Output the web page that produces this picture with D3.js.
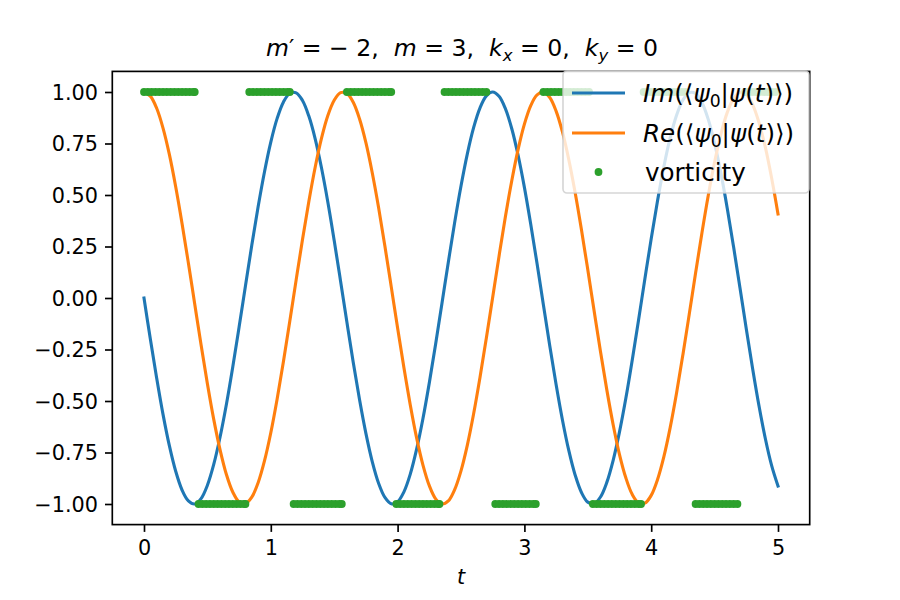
<!DOCTYPE html>
<html><head><meta charset="utf-8">
<script src="https://cdn.jsdelivr.net/npm/d3@7"></script>
<style>
html,body{margin:0;padding:0;background:#fff;}
svg{display:block;font-family:"DejaVu Sans",sans-serif;}
</style></head>
<body><svg id="chart" width="900" height="600"></svg>
<script>
// ---- data ----
const tValues = [0,0.05,0.1,0.15,0.2,0.25,0.3,0.35,0.4,0.45,0.5,0.55,0.6,0.65,0.7,0.75,0.8,0.85,0.9,0.95,
1,1.05,1.1,1.15,1.2,1.25,1.3,1.35,1.4,1.45,1.5,1.55,1.6,1.65,1.7,1.75,1.8,1.85,1.9,1.95,
2,2.05,2.1,2.15,2.2,2.25,2.3,2.35,2.4,2.45,2.5,2.55,2.6,2.65,2.7,2.75,2.8,2.85,2.9,2.95,
3,3.05,3.1,3.15,3.2,3.25,3.3,3.35,3.4,3.45,3.5,3.55,3.6,3.65,3.7,3.75,3.8,3.85,3.9,3.95,
4,4.05,4.1,4.15,4.2,4.25,4.3,4.35,4.4,4.45,4.5,4.55,4.6,4.65,4.7,4.75,4.8,4.85,4.9,4.95,5];
const imValues = [0,-0.199,-0.389,-0.565,-0.717,-0.841,-0.932,-0.985,-1.000,-0.974,
-0.909,-0.808,-0.675,-0.516,-0.335,-0.141,0.058,0.256,0.443,0.612,
0.757,0.872,0.952,0.994,0.996,0.959,0.883,0.773,0.631,0.465,
0.279,0.083,-0.117,-0.312,-0.494,-0.657,-0.794,-0.899,-0.968,-0.999,
-0.989,-0.941,-0.855,-0.734,-0.585,-0.412,-0.223,-0.025,0.174,0.367,
0.544,0.700,0.828,0.923,0.981,1.000,0.979,0.919,0.823,0.694,
0.537,0.358,0.166,-0.034,-0.232,-0.420,-0.592,-0.740,-0.859,-0.944,
-0.991,-0.998,-0.966,-0.895,-0.788,-0.650,-0.487,-0.303,-0.108,0.092,
0.288,0.472,0.638,0.778,0.887,0.961,0.997,0.993,0.949,0.867,
0.751,0.605,0.435,0.247,0.050,-0.150,-0.343,-0.523,-0.682,-0.814,-0.913];
const reValues = [1,0.980,0.921,0.825,0.697,0.540,0.362,0.170,-0.029,-0.227,
-0.416,-0.589,-0.737,-0.857,-0.942,-0.990,-0.998,-0.967,-0.897,-0.791,
-0.654,-0.490,-0.307,-0.112,0.088,0.284,0.469,0.635,0.776,0.886,
0.960,0.997,0.993,0.950,0.869,0.754,0.608,0.439,0.251,0.054,
-0.146,-0.339,-0.519,-0.679,-0.811,-0.911,-0.975,-1.000,-0.985,-0.930,
-0.839,-0.714,-0.561,-0.385,-0.194,0.004,0.203,0.394,0.568,0.720,
0.844,0.934,0.986,0.999,0.973,0.907,0.806,0.672,0.512,0.331,
0.137,-0.063,-0.260,-0.446,-0.615,-0.760,-0.873,-0.953,-0.994,-0.996,
-0.958,-0.881,-0.770,-0.628,-0.461,-0.275,-0.079,0.121,0.316,0.498,
0.660,0.796,0.901,0.969,0.999,0.989,0.939,0.852,0.732,0.581,0.408];
// vorticity samples: t positions where vorticity = +1 and where it = -1
const vortTopT = [0,0.03,0.06,0.09,0.12,0.15,0.18,0.21,0.24,0.27,0.30,0.33,0.36,0.39,0.40,
0.83,0.86,0.89,0.92,0.95,0.98,1.01,1.04,1.07,1.10,1.13,1.15,
1.60,1.63,1.66,1.69,1.72,1.75,1.78,1.81,1.84,1.87,1.90,1.93,1.95,
2.37,2.40,2.43,2.46,2.49,2.52,2.55,2.58,2.61,2.64,2.67,2.70,
3.15,3.18,3.21,3.24,3.27,3.30,3.33,3.36,3.39,3.42,3.45,3.48,3.51,
3.94,3.97,4.00,4.03,4.06,4.09,4.12,4.15,4.18,4.21,4.24,4.27,
4.74,4.77,4.80,4.83,4.86,4.89,4.92,4.95,4.98];
const vortBottomT = [0.43,0.46,0.49,0.52,0.55,0.58,0.61,0.64,0.67,0.70,0.73,0.76,0.79,0.80,
1.18,1.21,1.24,1.27,1.30,1.33,1.36,1.39,1.42,1.45,1.48,1.51,1.54,1.56,
1.99,2.02,2.05,2.08,2.11,2.14,2.17,2.20,2.23,2.26,2.29,2.32,2.33,
2.77,2.80,2.83,2.86,2.89,2.92,2.95,2.98,3.01,3.04,3.07,3.09,
3.54,3.57,3.60,3.63,3.66,3.69,3.72,3.75,3.78,3.81,3.84,3.87,3.90,3.92,
4.35,4.38,4.41,4.44,4.47,4.50,4.53,4.56,4.59,4.62,4.65,4.68];
const vortTopValue = 1, vortBottomValue = -1;
const xTicks = [0,1,2,3,4,5];
const yTicks = [-1,-0.75,-0.5,-0.25,0,0.25,0.5,0.75,1];
const seriesColors = {im:"#1f77b4", re:"#ff7f0e", vort:"#2ca02c"};

// ---- layout ----
const svg = d3.select("#chart");
const L = 112.3, R = 809.7, T = 71.4, B = 524.6;
const x = d3.scaleLinear().domain([-0.25, 5.25]).range([L, R]);
const y = d3.scaleLinear().domain([-1.1, 1.1]).range([B, T]);
const lw = 1.67;
const fs = 20.8;
const lfs = 24.6;
const minus = s => s.replace(/-/g, "\u2212");

// lines
const line = d3.line().x((d,i)=>x(tValues[i])).y(d=>y(d)).curve(d3.curveCatmullRom.alpha(0.5));
svg.append("path").attr("d", line(imValues)).attr("fill","none")
  .attr("stroke", seriesColors.im).attr("stroke-width", 3.1).attr("stroke-linecap","square");
svg.append("path").attr("d", line(reValues)).attr("fill","none")
  .attr("stroke", seriesColors.re).attr("stroke-width", 3.1).attr("stroke-linecap","square");

// vorticity dots
const dotR = 3.9;
const dots = svg.append("g").attr("fill", seriesColors.vort);
dots.selectAll("circle.top").data(vortTopT).join("circle").attr("class","top")
  .attr("cx", d=>x(d)).attr("cy", y(vortTopValue)).attr("r", dotR);
dots.selectAll("circle.bot").data(vortBottomT).join("circle").attr("class","bot")
  .attr("cx", d=>x(d)).attr("cy", y(vortBottomValue)).attr("r", dotR);

// axes
const xAxis = d3.axisBottom(x).tickValues(xTicks).tickFormat(d3.format("d"))
  .tickSize(7.3).tickPadding(7).tickSizeOuter(0);
const gx = svg.append("g").attr("transform", `translate(0,${B})`).call(xAxis);
const yAxis = d3.axisLeft(y).tickValues(yTicks).tickFormat(d=>minus(d3.format(".2f")(d)))
  .tickSize(7.3).tickPadding(7).tickSizeOuter(0);
const gy = svg.append("g").attr("transform", `translate(${L},0)`).call(yAxis);
[gx, gy].forEach(g => {
  g.select(".domain").remove();
  g.selectAll(".tick line").attr("stroke","#000").attr("stroke-width", lw);
  g.selectAll(".tick text").attr("fill","#000").attr("font-size", fs)
    .attr("font-family","DejaVu Sans");
});
gy.selectAll(".tick text").attr("dy","0.34em");
gx.selectAll(".tick text").attr("dy","0.76em");

// spines
svg.append("rect").attr("x",L).attr("y",T).attr("width",R-L).attr("height",B-T)
  .attr("fill","none").attr("stroke","#000").attr("stroke-width",lw);

// x label
svg.append("text").attr("x",(L+R)/2).attr("y",584).attr("text-anchor","middle")
  .attr("font-size",fs).attr("font-style","italic").text("t");

// title
const title = svg.append("text").attr("x",(L+R)/2 + 1).attr("y",56).attr("text-anchor","middle")
  .attr("font-size",23.6).style("white-space","pre");
const tparts = [
  ["m","i"],["\u2032 = \u2212 2,  ",null],["m","i"],[" = 3,  ",null],
  ["k","i"],["x","sub"],[" = 0,  ",null],["k","i"],["y","sub"],[" = 0",null]
];
let tShift = false;
tparts.forEach(([s,st]) => {
  const ts = title.append("tspan").text(s);
  if (st==="i") ts.attr("font-style","italic");
  if (st==="sub") { ts.attr("font-style","italic").attr("font-size",16.5).attr("dy",5); tShift = true; return; }
  if (tShift) { ts.attr("dy",-5); tShift = false; }
});

// legend
const lg = svg.append("g");
lg.append("rect").attr("x",563).attr("y",71).attr("width",246).attr("height",122)
  .attr("rx",4).attr("fill","#fff").attr("fill-opacity",0.8)
  .attr("stroke","#cccccc").attr("stroke-opacity",0.8).attr("stroke-width",1.67);
const rows = [93,133,172];
lg.append("line").attr("x1",572).attr("x2",625).attr("y1",rows[0]).attr("y2",rows[0])
  .attr("stroke",seriesColors.im).attr("stroke-width",3.1);
lg.append("line").attr("x1",572).attr("x2",625).attr("y1",rows[1]).attr("y2",rows[1])
  .attr("stroke",seriesColors.re).attr("stroke-width",3.1);
lg.append("circle").attr("cx",598.5).attr("cy",rows[2]).attr("r",dotR).attr("fill",seriesColors.vort);

function mathLabel(yc, head){
  const t = lg.append("text").attr("x",643).attr("y",yc+8.6).attr("font-size",lfs);
  const parts = [[head,"i"],["(\u27E8",null],["\u03C8","i"],["0","sub"],["|",null],["\u03C8","i"],["(",null],["t","i"],[")\u27E9)",null]];
  let shifted = false;
  parts.forEach(([s,st])=>{
    const ts = t.append("tspan").text(s);
    if (st==="i") ts.attr("font-style","italic");
    if (st==="sub") { ts.attr("font-size",17.2).attr("dy",5.2); shifted = true; return; }
    if (shifted) { ts.attr("dy",-5.2); shifted = false; }
  });
}
mathLabel(rows[0], "Im");
mathLabel(rows[1], "Re");
lg.append("text").attr("x",645).attr("y",rows[2]+8.6).attr("font-size",lfs).text("vorticity");
</script></body></html>
